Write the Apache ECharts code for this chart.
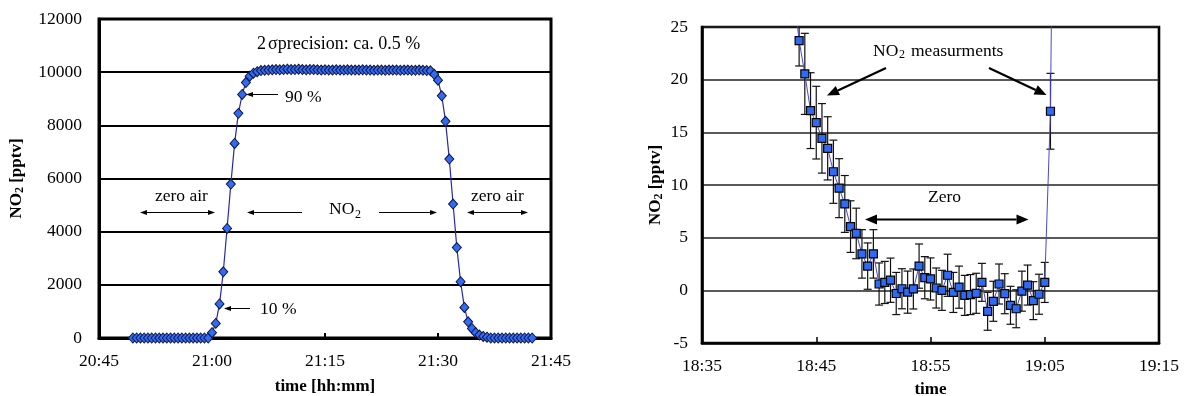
<!DOCTYPE html>
<html>
<head>
<meta charset="utf-8">
<script src="https://cdn.jsdelivr.net/npm/echarts/dist/echarts.min.js"></script>
<style>
html,body{margin:0;padding:0;background:#fff;}
#c{width:1186px;height:396px;}
</style>
</head>
<body>
<div id="c"></div>
<script>
// ---------------- DATA ----------------
// Left panel: NO2 calibration step (pptv), sampled every 30 s
const leftTicks = ["20:45", "21:00", "21:15", "21:30", "21:45"];
const leftTimes = [
 "20:49:30","20:50:00","20:50:30","20:51:00","20:51:30","20:52:00","20:52:30","20:53:00","20:53:30","20:54:00",
 "20:54:30","20:55:00","20:55:30","20:56:00","20:56:30","20:57:00","20:57:30","20:58:00","20:58:30","20:59:00",
 "20:59:30",
 "21:00:00","21:00:30","21:01:00","21:01:30","21:02:00","21:02:30","21:03:00","21:03:30","21:04:00","21:04:30",
 "21:05:00","21:05:30","21:06:00","21:06:30",
 "21:07:00","21:07:30","21:08:00","21:08:30","21:09:00","21:09:30","21:10:00","21:10:30","21:11:00","21:11:30",
 "21:12:00","21:12:30","21:13:00","21:13:30","21:14:00","21:14:30","21:15:00","21:15:30","21:16:00","21:16:30",
 "21:17:00","21:17:30","21:18:00","21:18:30","21:19:00","21:19:30","21:20:00","21:20:30","21:21:00","21:21:30",
 "21:22:00","21:22:30","21:23:00","21:23:30","21:24:00","21:24:30","21:25:00","21:25:30","21:26:00","21:26:30",
 "21:27:00","21:27:30","21:28:00","21:28:30","21:29:00",
 "21:29:30","21:30:00","21:30:30","21:31:00","21:31:30","21:32:00","21:32:30","21:33:00","21:33:30","21:34:00",
 "21:34:30","21:35:00","21:35:30","21:36:00","21:36:30",
 "21:37:00","21:37:30","21:38:00","21:38:30","21:39:00","21:39:30","21:40:00","21:40:30","21:41:00","21:41:30",
 "21:42:00","21:42:30"
];
const leftValues = [
 0,0,0,0,0,0,0,0,0,0,
 0,0,0,0,0,0,0,0,0,0,
 0,
 200,550,1280,2490,4120,5790,7320,8450,9160,9610,
 9850,9960,10020,10060,
 10070,10080,10090,10100,10090,10100,10110,10100,10100,10110,
 10100,10090,10100,10100,10090,10080,10090,10080,10080,10090,
 10080,10080,10090,10080,10080,10080,10090,10080,10080,10070,
 10080,10080,10070,10080,10080,10080,10070,10080,10080,10070,
 10070,10080,10070,10060,10050,
 9920,9700,9110,8150,6730,5040,3400,2120,1150,610,
 360,200,110,60,30,
 0,0,0,0,0,0,0,0,0,0,
 0,0
];

// Right panel: zero measurement (pptv) with error bars, sampled every 30 s
const rightTicks = ["18:35", "18:45", "18:55", "19:05", "19:15"];
const rightTimes = [
 "18:43:00","18:43:30","18:44:00","18:44:30","18:45:00","18:45:30","18:46:00","18:46:30","18:47:00","18:47:30",
 "18:48:00","18:48:30","18:49:00","18:49:30","18:50:00","18:50:30","18:51:00","18:51:30","18:52:00","18:52:30",
 "18:53:00","18:53:30","18:54:00","18:54:30","18:55:00","18:55:30","18:56:00","18:56:30","18:57:00","18:57:30",
 "18:58:00","18:58:30","18:59:00","18:59:30","19:00:00","19:00:30","19:01:00","19:01:30","19:02:00","19:02:30",
 "19:03:00","19:03:30","19:04:00","19:04:30","19:05:00","19:05:30","19:06:00"
];
const rightValues = [
 28.5,23.7,20.55,17.06,15.92,14.43,13.48,11.26,9.7,8.2,
 6.05,5.4,3.46,2.3,3.46,0.6,0.75,0.96,-0.3,0.15,
 -0.17,0.13,2.3,1.2,1.08,0.22,0.0,1.43,-0.2,0.3,
 -0.48,-0.4,-0.28,0.76,-1.99,-1.04,0.6,-0.32,-1.42,-1.75,
 -0.08,0.5,-0.98,-0.37,0.75,17.0,70
];
const rightErrors = [
 3.5,2.4,3.85,3.6,3.45,3.3,3.0,3.0,2.8,2.7,
 2.45,2.4,2.3,2.2,2.3,2.0,2.0,2.1,2.0,1.9,
 2.0,1.9,2.1,2.0,2.0,1.9,1.9,2.0,1.9,2.0,
 1.9,1.9,1.9,1.8,1.8,1.9,1.9,1.9,1.8,1.8,
 1.9,1.9,1.8,1.9,1.9,3.6,8
];

// ---------------- HELPERS ----------------
const FONT = '"Liberation Serif", "Times New Roman", serif';
function hms(s){ const p = s.split(':').map(Number); return p[0]*60 + p[1] + (p[2]||0)/60; }
const leftBase = hms(leftTicks[0]);
const rightBase = hms(rightTicks[0]);
const leftData = leftTimes.map((t,i)=>[hms(t)-leftBase, leftValues[i]]);
const rightData = rightTimes.map((t,i)=>[hms(t)-rightBase, rightValues[i]]);
const errData = rightTimes.map((t,i)=>[hms(t)-rightBase, rightValues[i]-rightErrors[i], rightValues[i]+rightErrors[i]]);

function arrowParts(x1,y1,x2,y2,o){
  const dx=x2-x1, dy=y2-y1, d=Math.hypot(dx,dy), ux=dx/d, uy=dy/d;
  const bx=x2-ux*o.len, by=y2-uy*o.len;
  return {
    shaftEnd:[bx,by],
    head:{type:'polygon', shape:{points:[[x2,y2],[bx-uy*o.half,by+ux*o.half],[bx+uy*o.half,by-ux*o.half]]}, style:{fill:'#000'}, z:100}
  };
}
function arrow(x1,y1,x2,y2,o){
  const a = arrowParts(x1,y1,x2,y2,o);
  return [{type:'line', shape:{x1:x1,y1:y1,x2:a.shaftEnd[0],y2:a.shaftEnd[1]}, style:{stroke:'#000',lineWidth:o.w}, z:100}, a.head];
}
function dblArrow(x1,y1,x2,y2,o){
  const a = arrowParts(x1,y1,x2,y2,o), b = arrowParts(x2,y2,x1,y1,o);
  return [{type:'line', shape:{x1:b.shaftEnd[0],y1:b.shaftEnd[1],x2:a.shaftEnd[0],y2:a.shaftEnd[1]}, style:{stroke:'#000',lineWidth:o.w}, z:100}, a.head, b.head];
}
function txt(s,x,y,size,align,extra){
  return Object.assign({type:'text', x:x, y:y, z:100, style:{text:s, fill:'#000', font: size+'px '+FONT, textAlign:align||'left', textVerticalAlign:'middle'}}, extra||{});
}
const thin = {w:1, len:7, half:2.6};
const thick = {w:2.2, len:12, half:5};

const graphics = [].concat(
  [txt('2', 257, 44, 18), txt('σprecision: ca. 0.5 %', 268, 44, 18)],
  arrow(278,94.5,246,94.5,thin), [txt('90 %', 285, 97, 17.5)],
  arrow(250,308.5,224,308.5,thin), [txt('10 %', 260, 309, 17.5)],
  [txt('zero air', 155, 196, 17.5)], dblArrow(140,212.5,215,212.5,thin),
  [txt('NO', 329, 209, 17.5), txt('2', 355, 215, 12)],
  arrow(302,212.5,247,212.5,thin), arrow(379,212.5,437,212.5,thin),
  [txt('zero air', 471, 196, 17.5)], dblArrow(467,212.5,528,212.5,thin),
  [txt('NO', 873, 51, 17.5), txt('2', 899, 55, 12), txt('measurments', 911, 51, 17.5)],
  arrow(886,68,827,95.5,thick), arrow(989,68,1046.5,95,thick),
  [txt('Zero', 928, 197, 17.5)], dblArrow(865,219.5,1028.5,219.5,thick)
);

const axisTitleRich = {
  a:{fontFamily:FONT, fontWeight:'bold', fontSize:17, color:'#000'},
  s:{fontFamily:FONT, fontWeight:'bold', fontSize:12, color:'#000', padding:[6,0,0,0]}
};

// ---------------- CHART ----------------
const chart = echarts.init(document.getElementById('c'), null, {renderer:'canvas'});
chart.setOption({
  animation:false,
  backgroundColor:'#fff',
  grid:[
    {left:99, top:19, width:452, height:319, show:true, borderColor:'#000', borderWidth:3, backgroundColor:'#fff',
     containLabel:false, outerBoundsMode:'none'},
    {left:702, top:27, width:457, height:316, show:true, borderColor:'#000', borderWidth:2.6, backgroundColor:'#fff',
     containLabel:false, outerBoundsMode:'none'}
  ],
  xAxis:[
    {gridIndex:0, type:'value', min:0, max:60, interval:15,
     axisLine:{onZero:false, lineStyle:{color:'#000', width:3}},
     axisTick:{inside:true, length:5, lineStyle:{color:'#000', width:2}},
     axisLabel:{color:'#000', fontFamily:FONT, fontSize:17.5, margin:14, formatter:v=>leftTicks[Math.round(v/15)]},
     splitLine:{show:false},
     name:'time [hh:mm]', nameLocation:'middle', nameGap:40,
     nameTextStyle:{fontFamily:FONT, fontWeight:'bold', fontSize:17, color:'#000'}},
    {gridIndex:1, type:'value', min:0, max:40, interval:10,
     axisLine:{onZero:false, lineStyle:{color:'#000', width:2.6}},
     axisTick:{inside:true, length:6, lineStyle:{color:'#000', width:1.5}},
     axisLabel:{color:'#000', fontFamily:FONT, fontSize:17.5, margin:14, formatter:v=>rightTicks[Math.round(v/10)]},
     splitLine:{show:false},
     name:'time', nameLocation:'middle', nameGap:38,
     nameTextStyle:{fontFamily:FONT, fontWeight:'bold', fontSize:17, color:'#000'}}
  ],
  yAxis:[
    {gridIndex:0, type:'value', min:0, max:12000, interval:2000,
     axisLine:{show:true, onZero:false, lineStyle:{color:'#000', width:3}},
     axisTick:{show:false},
     axisLabel:{color:'#000', fontFamily:FONT, fontSize:17.5, margin:17, formatter:v=>String(v)},
     splitLine:{show:true, lineStyle:{color:'#000', width:2}},
     name:'{a|NO}{s|2}{a| [pptv]}', nameLocation:'middle', nameGap:73,
     nameTextStyle:{rich:axisTitleRich}},
    {gridIndex:1, type:'value', min:-5, max:25, interval:5,
     axisLine:{show:true, onZero:false, lineStyle:{color:'#000', width:2.6}},
     axisTick:{show:false},
     axisLabel:{color:'#000', fontFamily:FONT, fontSize:17.5, margin:14, formatter:v=>String(v)},
     splitLine:{show:true, lineStyle:{color:'#222', width:1.6}},
     name:'{a|NO}{s|2}{a| [pptv]}', nameLocation:'middle', nameGap:37,
     nameTextStyle:{rich:axisTitleRich}}
  ],
  series:[
    {type:'line', xAxisIndex:0, yAxisIndex:0, data:leftData,
     symbol:'diamond', symbolSize:[9,10], showAllSymbol:true,
     lineStyle:{color:'#2828a8', width:1.2},
     itemStyle:{color:'#2f6cf5', borderColor:'#14143c', borderWidth:1},
     z:5},
    {type:'custom', xAxisIndex:1, yAxisIndex:1, data:errData, clip:true,
     encode:{x:0, y:[1,2]},
     renderItem:function(params, api){
       const lo = api.coord([api.value(0), api.value(1)]);
       const hi = api.coord([api.value(0), api.value(2)]);
       const w = 4;
       const st = {stroke:'#111', lineWidth:1.2};
       return {type:'group', children:[
         {type:'line', shape:{x1:lo[0],y1:lo[1],x2:hi[0],y2:hi[1]}, style:st},
         {type:'line', shape:{x1:lo[0]-w,y1:lo[1],x2:lo[0]+w,y2:lo[1]}, style:st},
         {type:'line', shape:{x1:hi[0]-w,y1:hi[1],x2:hi[0]+w,y2:hi[1]}, style:st}
       ]};
     }, z:3},
    {type:'line', xAxisIndex:1, yAxisIndex:1, data:rightData,
     symbol:'rect', symbolSize:8, showAllSymbol:true, clip:true,
     lineStyle:{color:'#4848cc', width:1},
     itemStyle:{color:'#2f6af5', borderColor:'#000', borderWidth:1.2},
     z:5}
  ],
  graphic: graphics
});
</script>
</body>
</html>
